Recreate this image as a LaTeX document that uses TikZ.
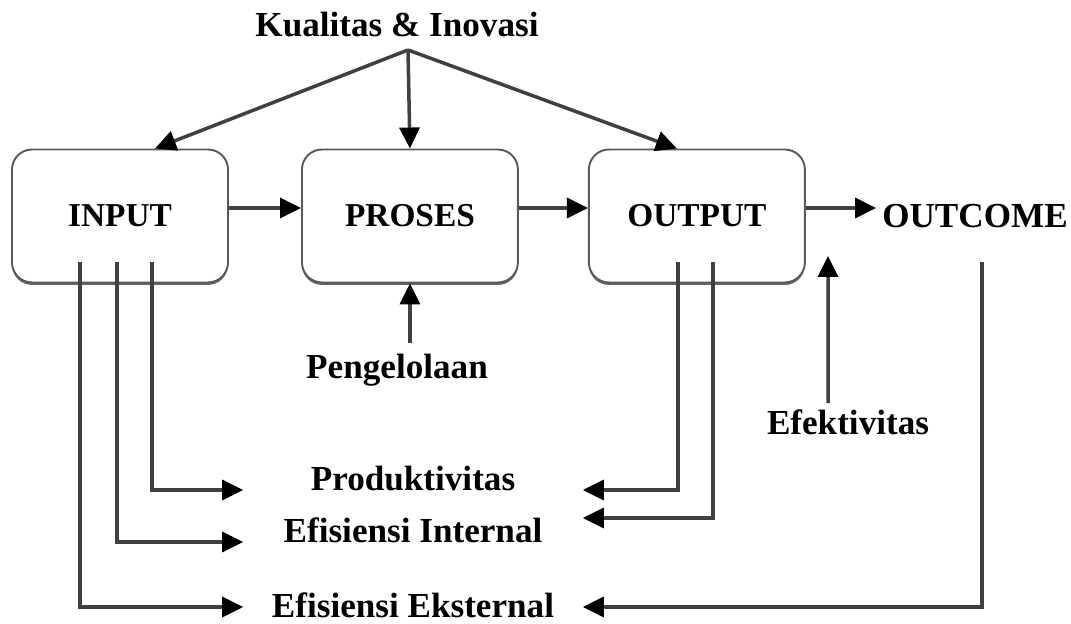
\documentclass[tikz,border=0pt]{standalone}
\usepackage{fontspec}
\setmainfont{Liberation Serif}
\usetikzlibrary{arrows.meta}
\usetikzlibrary{shadows}
\tikzset{blok/.style={draw=black!65, fill=white, line width=1.1pt, rounded corners=0.4cm,
    minimum width=4.32cm, minimum height=2.66cm, font=\bfseries\fontsize{19}{22}\selectfont,
    drop shadow={shadow xshift=0pt, shadow yshift=-1.4pt, fill=black!60, opacity=1}}}
\tikzset{teks/.style={font=\bfseries\fontsize{20}{24}\selectfont}}
\tikzset{hasil/.style={teks, minimum width=6.78cm, inner sep=0pt}}
\tikzset{panah/.style={-{Triangle[length=0.42cm,width=0.4cm,color=black]}, draw=black!75, line width=2pt}}

\begin{document}
\begin{tikzpicture}[x=0.02cm, y=-0.02cm]
    \useasboundingbox (0,0) rectangle (1071,624);

    \node[blok] at (120,216) (inp){INPUT};
    \node[blok] at ([xshift = 5.8cm]inp) (pro){PROSES};
    \node[blok] at ([xshift = 5.74cm]pro) (out){OUTPUT};
    \node[teks] at (975,216) (outc){OUTCOME};

    \draw [panah] ([yshift = 0.16cm]inp.east) -- ([yshift = 0.16cm]pro.west);
    \draw [panah] ([yshift = 0.16cm]pro.east) -- ([yshift = 0.16cm]out.west);
    \draw [panah] ([yshift = 0.16cm]out.east) -- ([yshift = 0.16cm]outc.west);

    \node[teks] at (397,25) (kual){Kualitas \& Inovasi};
    \coordinate (puncak) at (408,50);
    \draw [panah] (puncak) -- ([xshift = 0.7cm]inp.north);
    \draw [panah] (puncak) -- (pro.north);
    \draw [panah] (puncak) -- ([xshift = -0.4cm]out.north);

    \node[teks] at (397,370) (peng){Pengelolaan};
    \draw [panah] ([yshift = 0.1cm]peng.north -| pro.south) -- (pro.south);

    \node[teks] at (848,422) (efek){Efektivitas};
    \coordinate (efekujung) at (828,256);
    \draw [panah] ([xshift = -0.4cm]efek.north) -- (efekujung);

    \node[hasil] at (413,479) (prod){Produktivitas};
    \node[hasil] at (413,530) (intern){Efisiensi Internal};
    \node[hasil] at (413,605) (ekstern){Efisiensi Eksternal};

    \draw [panah] ([xshift = 0.64cm, yshift = 0.42cm]inp.south) |- ([yshift = -0.22cm]prod.west);
    \draw [panah] ([xshift = -0.06cm, yshift = 0.42cm]inp.south) |- ([yshift = -0.24cm]intern.west);
    \draw [panah] ([xshift = -0.8cm, yshift = 0.42cm]inp.south) |- ([yshift = -0.04cm]ekstern.west);

    \draw [panah] ([xshift = -0.38cm, yshift = 0.42cm]out.south) |- ([yshift = -0.22cm]prod.east);
    \draw [panah] ([xshift = 0.32cm, yshift = 0.42cm]out.south) |- ([yshift = 0.24cm]intern.east);
    \draw [panah] ([xshift = 0.14cm, yshift = -0.55cm]outc.south) |- ([yshift = -0.04cm]ekstern.east);
  \end{tikzpicture}
\end{document}
